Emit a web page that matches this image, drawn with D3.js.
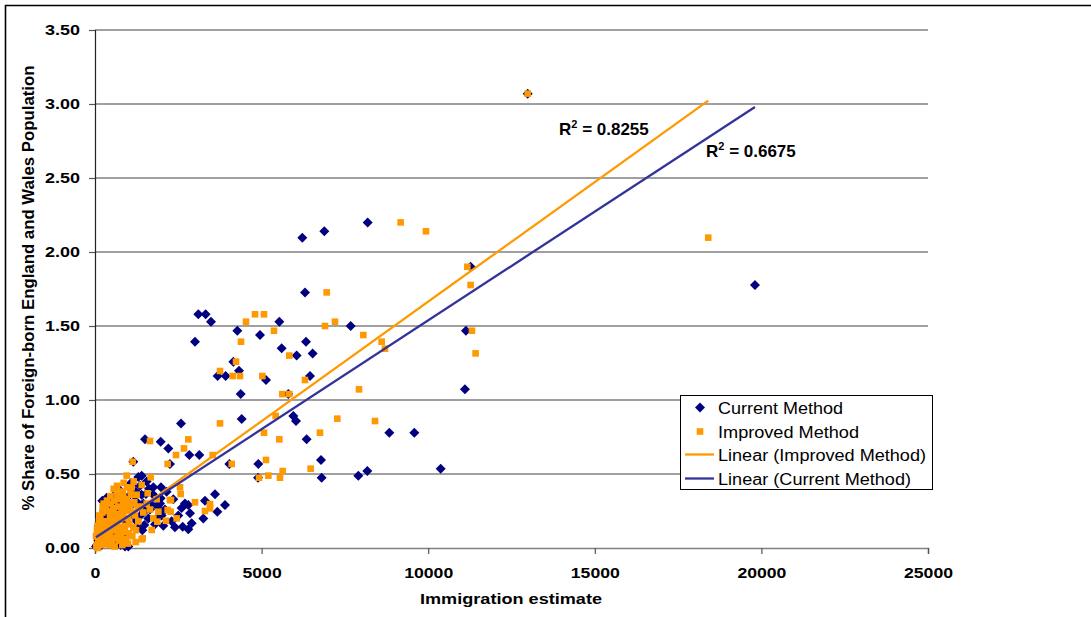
<!DOCTYPE html>
<html><head><meta charset="utf-8">
<script src="https://cdn.jsdelivr.net/npm/d3@7"></script>
<style>
html,body{margin:0;padding:0;background:#fff;}
svg{display:block;font-family:"Liberation Sans",Arial,sans-serif;}
</style></head>
<body>
<svg id="chart" width="1091" height="617"></svg>
<script>
// ---- data ----
const currentX = [12985,6222,6882,8183,11273,19807,11133,6302,3101,3321,3481,5532,4272,4952,6332,7673,5602,6052,6532,5132,6452,5802,5952,6032,6352,8833,9583,4902,6782,8173,7903,10375,4892,6802,11103,3001,4152,4322,3681,3921,4372,4402,2581,1501,1971,2200,2830,3130,1150,2250,4032,1401,1071,1751,1981,351,1531,1971,2800,3301,3601,3901,3671,3250,2851,2631,2800,2901,771,1231,1881,180,280,630,1381,1481,1281,1381,
  100,150,200,300,350,400,450,500,550,600,650,700,750,800,850,900,950,1000,1050,1100,1150,1200,1250,1300,1400,1500,1600,1700,1800,2000,2100,2300,2400,2600,450,250,120,60,30,900,1000,2700,
  1350,1450,1550,1650,1750,1850,1950,2050,2150,1300,1420,1620,2350,2500,700,550,420,320,220];
const currentY = [3.07,2.097,2.14,2.20,1.90,1.777,1.468,1.727,1.579,1.579,1.529,1.529,1.468,1.439,1.394,1.50,1.349,1.30,1.315,1.135,1.162,1.04,0.892,0.858,0.734,0.779,0.779,0.568,0.595,0.52,0.489,0.536,0.475,0.475,1.072,1.394,1.259,1.198,1.162,1.162,1.04,0.872,0.842,0.734,0.718,0.673,0.628,0.628,0.583,0.568,0.568,0.489,0.437,0.41,0.41,0.34,0.365,0.336,0.29,0.32,0.363,0.29,0.245,0.20,0.234,0.144,0.126,0.167,0.02,0.38,0.279,0.167,0.245,0.313,0.223,0.155,0.133,0.268,
  0.05,0.10,0.02,0.08,0.12,0.18,0.05,0.22,0.15,0.10,0.03,0.20,0.25,0.30,0.12,0.18,0.08,0.35,0.28,0.42,0.22,0.32,0.18,0.30,0.36,0.25,0.20,0.30,0.16,0.22,0.26,0.18,0.14,0.27,0.30,0.06,0.15,0.02,0.01,0.01,0.01,0.30,
  0.42,0.30,0.45,0.26,0.36,0.20,0.30,0.15,0.38,0.48,0.12,0.40,0.33,0.22,0.40,0.35,0.27,0.22,0.32];
const improvedX = [12985,18405,9173,9933,11174,11273,11313,6953,4532,4802,5072,5372,4382,6902,7202,8053,8603,8703,5832,5022,6302,7923,5622,5832,5422,5072,5532,7273,6752,8403,5132,5632,6472,4922,5202,5552,11423,4232,3751,4132,4352,3751,1651,2800,2671,2431,3531,1130,2180,4102,950,1671,1101,1401,2551,2571,651,850,2250,3001,3451,3451,3301,2450,2270,2130,1901,1871,1701,1401,730,1581,2281,2180,1431,
  50,100,150,200,250,300,350,400,450,500,550,600,650,700,750,800,850,900,950,1000,1050,1100,1150,1200,1250,1300,1350,1450,1550,1650,1750,1850,120,220,320,420,520,620,720,820,920,1020,1120,1220,60,160,260,360,460,560,660,760,860,960,1060,1160,
  30,80,130,180,230,280,330,380,430,480,530,580,630,680,730,780,830,880,930,980,1030,1080,1130,1180,1230,1280,40,90,140,190,240,290,340,390,440,490,540,590,640,690,740,790,840,890,940,990];
const improvedY = [3.07,2.097,2.20,2.14,1.90,1.777,1.468,1.727,1.529,1.579,1.579,1.468,1.394,1.50,1.529,1.439,1.394,1.347,1.30,1.162,1.135,1.072,1.04,1.04,0.892,0.779,0.734,0.874,0.779,0.858,0.595,0.52,0.536,0.475,0.489,0.475,1.315,1.259,1.196,1.162,1.162,0.842,0.723,0.734,0.673,0.628,0.628,0.583,0.568,0.568,0.489,0.478,0.41,0.426,0.41,0.365,0.365,0.347,0.324,0.309,0.297,0.268,0.25,0.20,0.245,0.184,0.245,0.178,0.122,0.059,0.37,0.37,0.324,0.257,0.065,
  0.02,0.06,0.03,0.10,0.14,0.05,0.18,0.08,0.22,0.12,0.26,0.16,0.20,0.28,0.10,0.24,0.30,0.15,0.33,0.20,0.26,0.30,0.14,0.22,0.36,0.18,0.28,0.24,0.30,0.26,0.20,0.33,0.18,0.24,0.28,0.02,0.04,0.07,0.05,0.02,0.06,0.10,0.08,0.04,0.12,0.20,0.30,0.32,0.35,0.40,0.42,0.38,0.44,0.41,0.39,0.45,
  0.08,0.15,0.22,0.05,0.28,0.18,0.10,0.25,0.15,0.30,0.20,0.32,0.12,0.36,0.22,0.14,0.38,0.26,0.05,0.29,0.16,0.36,0.24,0.31,0.12,0.27,0.01,0.00,0.12,0.02,0.08,0.12,0.03,0.14,0.10,0.06,0.17,0.01,0.23,0.09,0.33,0.07,0.21,0.11,0.25,0.03];
// Fitted trend lines
const improvedTrend = {slope: 0.0001615, intercept: 0.05, r2: "0.8255"};
const currentTrend  = {slope: 0.000147,  intercept: 0.068, r2: "0.6675"};
const xTicks = [0,5000,10000,15000,20000,25000];
const yTicks = [0,0.5,1,1.5,2,2.5,3,3.5];
const legendLabels = ["Current Method","Improved Method","Linear (Improved Method)","Linear (Current Method)"];

// ---- drawing ----
const svg = d3.select("#chart");
const navy = "#000080", orange = "#FF9900", trendBlue = "#333399";
const x = d3.scaleLinear().domain([0,25000]).range([95,928]);
const y = d3.scaleLinear().domain([0,3.5]).range([548,30]);

// outer frame
svg.append("line").attr("x1",5).attr("x2",1091).attr("y1",5.5).attr("y2",5.5).attr("stroke","#000").attr("stroke-width",1.6);
svg.append("line").attr("x1",5.5).attr("x2",5.5).attr("y1",5).attr("y2",617).attr("stroke","#000").attr("stroke-width",1.6);

// gridlines
svg.append("g").selectAll("line").data(yTicks.filter(d=>d>0)).join("line")
  .attr("x1",x(0)).attr("x2",x(25000)).attr("y1",d=>y(d)).attr("y2",d=>y(d))
  .attr("stroke","#808080").attr("stroke-width",1.5);

// axes
const yAxis = d3.axisLeft(y).tickValues(yTicks).tickFormat(d3.format(".2f")).tickSize(6).tickPadding(9);
const gy = svg.append("g").attr("transform",`translate(${x(0)},0)`).call(yAxis);
gy.select(".domain").attr("stroke","#222").attr("stroke-width",1.2);
gy.selectAll(".tick line").attr("stroke","#555").attr("stroke-width",1.2);
gy.selectAll(".tick text").attr("font-size",15).attr("font-weight","bold").attr("fill","#000")
  .attr("font-family","Liberation Sans, Arial").attr("textLength",35).attr("lengthAdjust","spacingAndGlyphs");

const xAxis = d3.axisBottom(x).tickValues(xTicks).tickFormat(d3.format("d")).tickSize(6).tickPadding(13);
const gx = svg.append("g").attr("transform",`translate(0,${y(0)})`).call(xAxis);
gx.select(".domain").attr("stroke","#808080").attr("stroke-width",1.5);
gx.selectAll(".tick line").attr("stroke","#555").attr("stroke-width",1.2);
gx.selectAll(".tick text").attr("font-size",15).attr("font-weight","bold").attr("fill","#000")
  .attr("font-family","Liberation Sans, Arial")
  .attr("textLength",d=>String(d).length*9.8).attr("lengthAdjust","spacingAndGlyphs");

// axis titles
svg.append("text").attr("x",511).attr("y",604).attr("text-anchor","middle")
  .attr("font-size",15).attr("font-weight","bold").attr("textLength",182).attr("lengthAdjust","spacingAndGlyphs")
  .text("Immigration estimate");
svg.append("text").attr("transform","translate(34,288) rotate(-90)").attr("text-anchor","middle")
  .attr("font-size",16).attr("font-weight","bold").attr("textLength",445).attr("lengthAdjust","spacingAndGlyphs")
  .text("% Share of Foreign-born England and Wales Population");

// points
const current = currentX.map((v,i)=>({x:v,y:currentY[i]}));
const improved = improvedX.map((v,i)=>({x:v,y:improvedY[i]}));
const diamond = "M0,-5L5,0L0,5L-5,0Z";
svg.append("g").selectAll("path").data(current).join("path")
  .attr("d",diamond).attr("transform",d=>`translate(${x(d.x)},${y(d.y)})`).attr("fill",navy);
svg.append("g").selectAll("rect").data(improved).join("rect")
  .attr("x",d=>x(d.x)-3.3).attr("y",d=>y(d.y)-3.3).attr("width",6.6).attr("height",6.6).attr("fill",orange);

// trend lines
function trend(data, t){
  const ext = d3.extent(data,d=>d.x);
  return ext.map(v=>({x:v,y:t.intercept+t.slope*v}));
}
const line = d3.line().x(d=>x(d.x)).y(d=>y(d.y));
svg.append("path").attr("d",line(trend(improved,improvedTrend))).attr("stroke",orange).attr("stroke-width",2.3).attr("fill","none");
svg.append("path").attr("d",line(trend(current,currentTrend))).attr("stroke",trendBlue).attr("stroke-width",2.3).attr("fill","none");

// R² labels
function r2Label(xp, yp, val){
  const t = svg.append("text").attr("x",xp).attr("y",yp).attr("font-size",17).attr("font-weight","bold");
  t.append("tspan").text("R");
  t.append("tspan").attr("font-size",11).attr("dy",-7).text("2");
  t.append("tspan").attr("dy",7).text(" = "+val);
}
r2Label(559,135,improvedTrend.r2);
r2Label(706,157,currentTrend.r2);

// legend
const lg = svg.append("g");
lg.append("rect").attr("x",680.5).attr("y",395.5).attr("width",252).attr("height",94).attr("fill","#fff").attr("stroke","#000").attr("stroke-width",1);
const rowsY = [407.5,431.5,454.5,478.5];
lg.append("path").attr("d",diamond).attr("transform",`translate(700,${rowsY[0]})`).attr("fill",navy);
lg.append("rect").attr("x",696.7).attr("y",rowsY[1]-3.3).attr("width",6.6).attr("height",6.6).attr("fill",orange);
lg.append("line").attr("x1",685).attr("x2",714).attr("y1",rowsY[2]).attr("y2",rowsY[2]).attr("stroke",orange).attr("stroke-width",2.3);
lg.append("line").attr("x1",685).attr("x2",714).attr("y1",rowsY[3]).attr("y2",rowsY[3]).attr("stroke",trendBlue).attr("stroke-width",2.3);
const legendW = [125,141,208,193];
lg.selectAll("text.lab").data(legendLabels).join("text").attr("class","lab")
  .attr("x",718).attr("y",(d,i)=>rowsY[i]+6).attr("font-size",16)
  .attr("textLength",(d,i)=>legendW[i]).attr("lengthAdjust","spacingAndGlyphs")
  .text(d=>d);
</script>
</body></html>
